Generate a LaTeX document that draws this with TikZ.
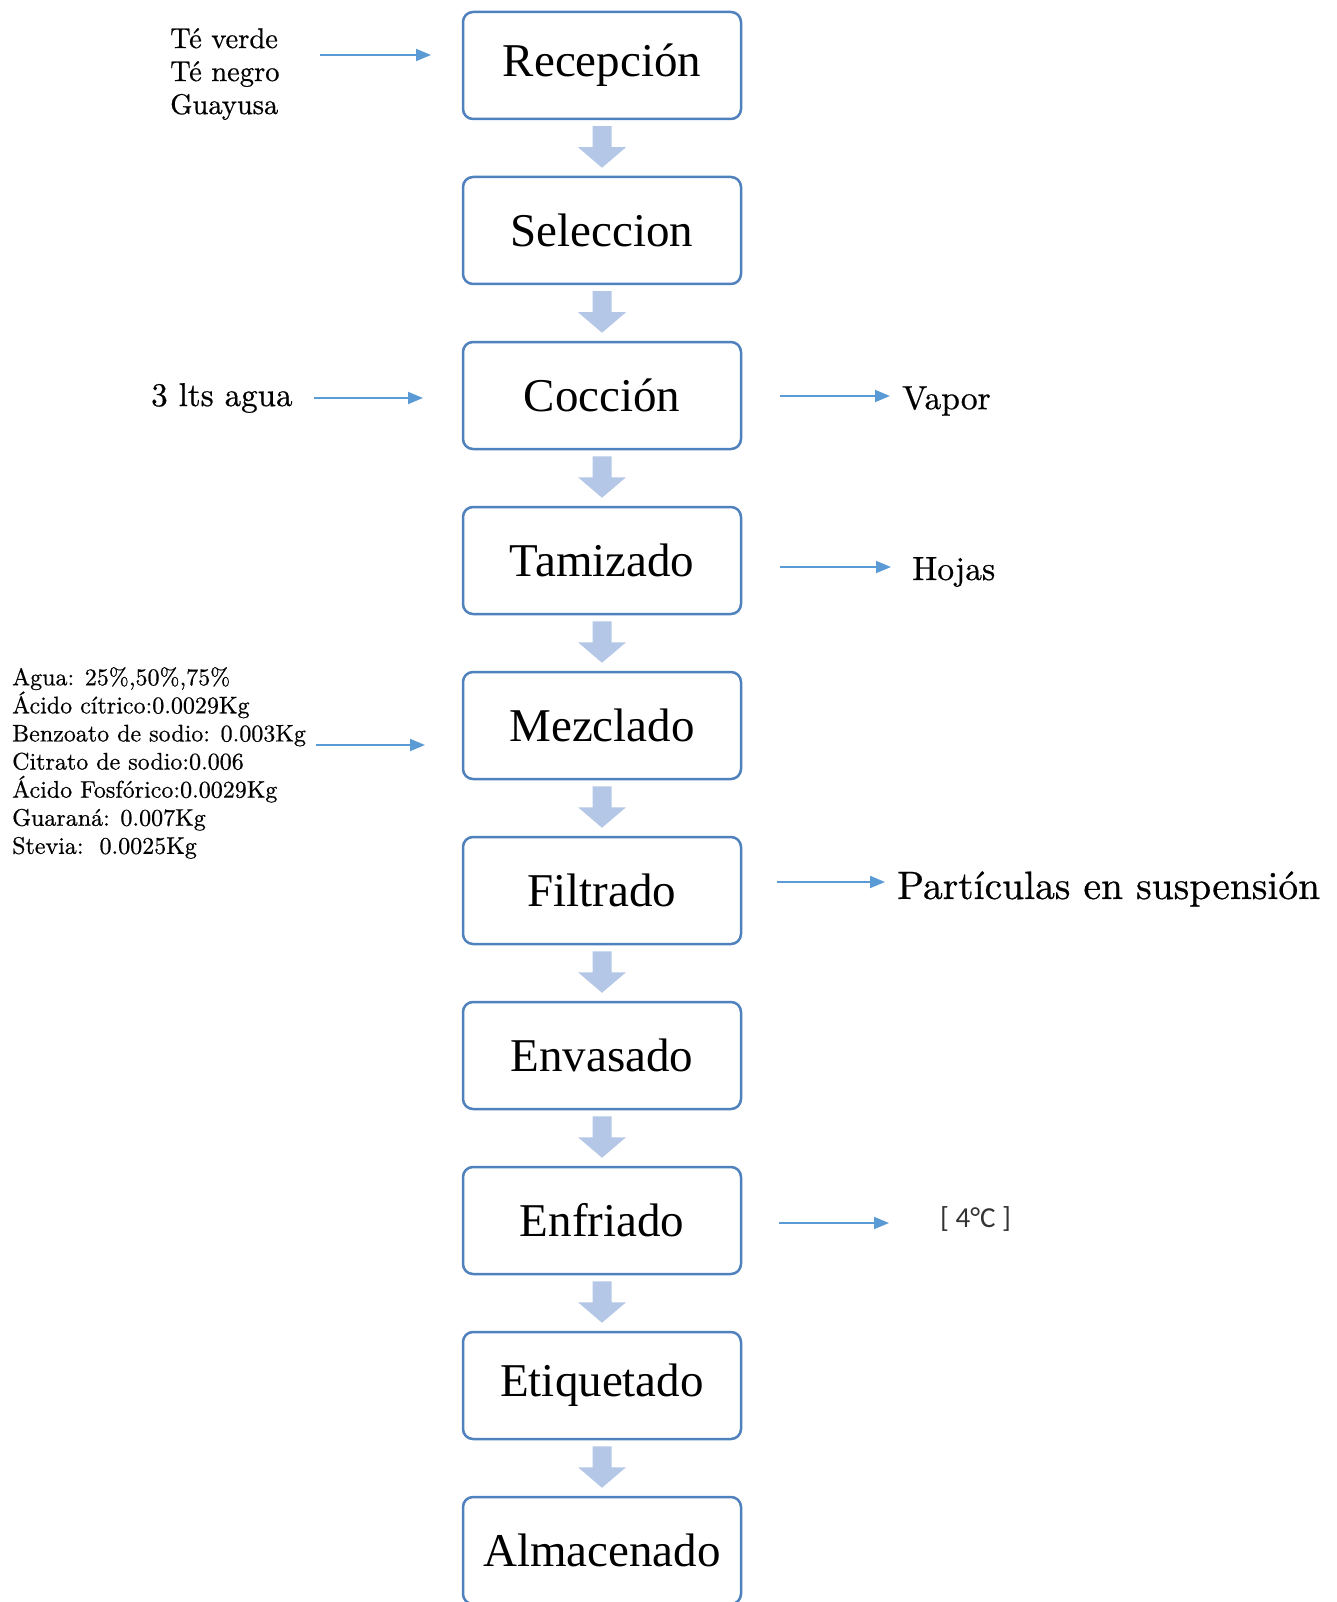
\documentclass[tikz,border=0pt]{standalone}
\usepackage{fontspec}
\newfontfamily\boxfont{Liberation Serif}
\newfontfamily\calfont{Carlito}
\newfontfamily\sidefont{lmroman10-regular}[Extension=.otf, FakeBold=0.6]
\usetikzlibrary{arrows.meta,calc}
\definecolor{boxblue}{RGB}{79,129,189}
\definecolor{barrowblue}{RGB}{180,199,231}
\definecolor{thinblue}{RGB}{91,155,213}
\tikzset{
  stepbox/.style={draw=boxblue, line width=2.5pt, rounded corners=10pt,
    minimum width=278pt, minimum height=107pt, inner sep=0pt, fill=white,
    font=\boxfont\fontsize{47}{56}\selectfont},
  thinarrow/.style={draw=thinblue, line width=1.8pt, -{Triangle[length=15pt,width=12pt]}},
  barrow/.style={fill=barrowblue},
  sidetext/.style={inner sep=0pt, align=left, anchor=west},
}
\newcommand\blockarr[2]{%
  \fill[barrow] ($(#1.south)+(-9.5,-6)$) -- ($(#1.south)+(9.5,-6)$)
    -- ($(#1.south)+(9.5,-27)$) -- ($(#1.south)+(24,-27)$)
    -- ($(#2.north)+(0,8)$) -- ($(#1.south)+(-24,-27)$)
    -- ($(#1.south)+(-9.5,-27)$) -- cycle;}
\begin{document}
\begin{tikzpicture}[x=1pt,y=1pt]
\useasboundingbox (0,0) rectangle (1337,-1602);
% main boxes
\node[stepbox] (n1) at (602,-65.5) {Recepción};
\node[stepbox] (n2) at (602,-230.5) {Seleccion};
\node[stepbox] (n3) at (602,-395.5) {Cocción};
\node[stepbox] (n4) at (602,-560.5) {Tamizado};
\node[stepbox] (n5) at (602,-725.5) {Mezclado};
\node[stepbox] (n6) at (602,-890.5) {Filtrado};
\node[stepbox] (n7) at (602,-1055.5) {Envasado};
\node[stepbox] (n8) at (602,-1220.5) {Enfriado};
\node[stepbox] (n9) at (602,-1385.5) {Etiquetado};
\node[stepbox] (n10) at (602,-1550.5) {Almacenado};
% block arrows
\blockarr{n1}{n2}
\blockarr{n2}{n3}
\blockarr{n3}{n4}
\blockarr{n4}{n5}
\blockarr{n5}{n6}
\blockarr{n6}{n7}
\blockarr{n7}{n8}
\blockarr{n8}{n9}
\blockarr{n9}{n10}
% side texts
\node[sidetext, font=\sidefont\fontsize{28.5}{33}\selectfont] (teas) at (170,-74) {Té verde\\Té negro\\Guayusa};
\node[sidetext, font=\sidefont\fontsize{33}{40}\selectfont] (agua) at (151,-398) {3 lts agua};
\node[sidetext, font=\sidefont\fontsize{33.5}{40}\selectfont] (vapor) at (902,-401) {Vapor};
\node[sidetext, font=\sidefont\fontsize{33.5}{40}\selectfont] (hojas) at (912,-572) {Hojas};
\node[sidetext, font=\sidefont\fontsize{24}{28.1}\selectfont] (ingr) at (12,-763) {Agua: 25\%,50\%,75\%\\Ácido cítrico:0.0029Kg\\Benzoato de sodio: 0.003Kg\\Citrato de sodio:0.006\\Ácido Fosfórico:0.0029Kg\\Guaraná: 0.007Kg\\Stevia:\ \ 0.0025Kg};
\node[sidetext, font=\sidefont\fontsize{39.5}{47}\selectfont] (part) at (897,-889) {Partículas en suspensión};
\node[sidetext, font=\calfont\fontsize{29}{34}\selectfont, text=black!80] (temp) at (940,-1219) {[ 4°C ]};
% thin arrows
\coordinate (a1s) at (320,-55);  \coordinate (a1e) at (431,-55);
\coordinate (a2s) at (314,-398); \coordinate (a2e) at (423,-398);
\coordinate (a3s) at (780,-396); \coordinate (a3e) at (890,-396);
\coordinate (a4s) at (780,-567); \coordinate (a4e) at (891,-567);
\coordinate (a5s) at (316,-745); \coordinate (a5e) at (425,-745);
\coordinate (a6s) at (777,-882); \coordinate (a6e) at (885,-882);
\coordinate (a7s) at (779,-1223); \coordinate (a7e) at (889,-1223);
\draw[thinarrow] (a1s) -- (a1e);
\draw[thinarrow] (a2s) -- (a2e);
\draw[thinarrow] (a3s) -- (a3e);
\draw[thinarrow] (a4s) -- (a4e);
\draw[thinarrow] (a5s) -- (a5e);
\draw[thinarrow] (a6s) -- (a6e);
\draw[thinarrow] (a7s) -- (a7e);
\end{tikzpicture}
\end{document}
